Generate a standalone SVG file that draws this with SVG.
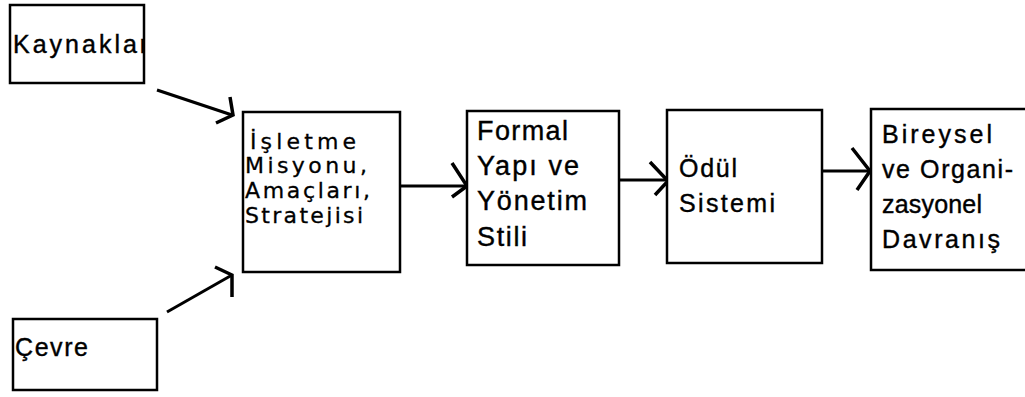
<svg xmlns="http://www.w3.org/2000/svg" width="1025" height="397" viewBox="0 0 1025 397">
<style>
.box{fill:#fff;stroke:#000;stroke-width:2.5}
.t{font-family:"Liberation Sans",Arial,sans-serif;font-size:25px;fill:#000;stroke:#000;stroke-width:0.4}
.t1{font-family:"DejaVu Sans",Verdana,sans-serif;font-size:22px;fill:#000;stroke:#000;stroke-width:0.3}
.t2{font-family:"Liberation Sans",Arial,sans-serif;font-size:27px;fill:#000;stroke:#000;stroke-width:0.4}
.c{fill:none;stroke:#000;stroke-width:3}
.h{fill:none;stroke:#000;stroke-width:3.5;stroke-linejoin:miter}
</style>
<defs>
<clipPath id="ck"><rect x="10" y="5" width="134" height="78"/></clipPath>
</defs>
<g id="connectors">
<line class="c" x1="157" y1="90" x2="232" y2="115"/>
<path class="h" d="M230,97 L233,115 L216,123"/>
<line class="c" x1="167" y1="312" x2="232" y2="275"/>
<path class="h" d="M215,267 L232,275 L232,297"/>
<line class="c" x1="400" y1="186" x2="467" y2="186"/>
<path class="h" d="M452,163 L467,186 L452,197"/>
<line class="c" x1="619" y1="180" x2="668" y2="180"/>
<path class="h" d="M650,162 L668,181 L655,195"/>
<line class="c" x1="822" y1="171" x2="870" y2="171"/>
<path class="h" d="M852,148 L870,171 L857,190"/>
</g>
<g id="kaynaklar">
<rect class="box" x="10" y="5" width="134" height="78"/>
<text class="t" x="13" y="53" clip-path="url(#ck)" style="letter-spacing:3px">Kaynaklar</text>
</g>
<g id="cevre">
<rect class="box" x="13" y="319" width="144" height="71"/>
<text class="t" x="15" y="356" textLength="73" lengthAdjust="spacing">Çevre</text>
</g>
<g id="isletme">
<rect class="box" x="243" y="112" width="157" height="160"/>
<text class="t1" x="250" y="149" textLength="106" lengthAdjust="spacing">İşletme</text>
<text class="t1" x="245" y="173" textLength="122" lengthAdjust="spacing">Misyonu,</text>
<text class="t1" x="245" y="198" textLength="125" lengthAdjust="spacing">Amaçları,</text>
<text class="t1" x="245" y="223" textLength="118" lengthAdjust="spacing">Stratejisi</text>
</g>
<g id="formal">
<rect class="box" x="467" y="111" width="152" height="154"/>
<text class="t2" x="477" y="140" textLength="91" lengthAdjust="spacing">Formal</text>
<text class="t2" x="477" y="175" textLength="102" lengthAdjust="spacing">Yapı ve</text>
<text class="t2" x="477" y="210" textLength="110" lengthAdjust="spacing">Yönetim</text>
<text class="t2" x="477" y="246" textLength="50" lengthAdjust="spacing">Stili</text>
</g>
<g id="odul">
<rect class="box" x="667" y="110" width="155" height="153"/>
<text class="t" x="679" y="177" textLength="58" lengthAdjust="spacing">Ödül</text>
<text class="t" x="679" y="212" textLength="96" lengthAdjust="spacing">Sistemi</text>
</g>
<g id="bireysel">
<rect class="box" x="871" y="109" width="160" height="161"/>
<text class="t" x="882" y="143" textLength="110" lengthAdjust="spacing">Bireysel</text>
<text class="t" x="882" y="178" textLength="131" lengthAdjust="spacing">ve Organi-</text>
<text class="t" x="882" y="213" textLength="100" lengthAdjust="spacing">zasyonel</text>
<text class="t" x="882" y="248" textLength="118" lengthAdjust="spacing">Davranış</text>
</g>
</svg>
